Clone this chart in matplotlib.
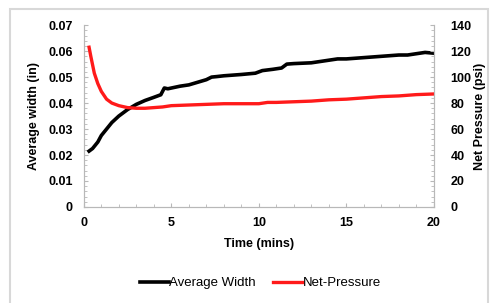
import numpy as np
import matplotlib.pyplot as plt
from matplotlib.patches import Rectangle
from matplotlib.ticker import MultipleLocator

# %% Data
t_width = [0.3, 0.5, 0.8, 1.0, 1.3, 1.6, 2.0, 2.5, 3.0, 3.5, 4.0, 4.4, 4.6, 4.8,
           5.5, 6.0, 6.5, 7.0, 7.3, 7.6, 8.0, 9.0, 9.8, 10.2, 10.8, 11.3, 11.6,
           12.0, 13.0, 14.0, 14.5, 15.0, 16.0, 17.0, 18.0, 18.5, 19.0, 19.5, 20.0]
avg_width = [0.0215, 0.0225, 0.0250, 0.0275, 0.0300, 0.0325, 0.0350, 0.0375,
             0.0395, 0.0410, 0.0422, 0.0432, 0.0458, 0.0455, 0.0465, 0.0470,
             0.0480, 0.0490, 0.0500, 0.0502, 0.0505, 0.0510, 0.0515, 0.0525,
             0.0530, 0.0535, 0.0550, 0.0552, 0.0555, 0.0565, 0.0570, 0.0570,
             0.0575, 0.0580, 0.0585, 0.0585, 0.0590, 0.0595, 0.0592]

t_press = [0.3, 0.4, 0.6, 0.8, 1.0, 1.3, 1.6, 2.0, 2.5, 3.0, 3.5, 4.0, 4.5, 5.0,
           6, 7, 8, 9, 10, 10.5, 11, 12, 13, 14, 15, 16, 17, 18, 19, 20]
net_press = [123, 116, 103, 95, 89, 83, 80, 78, 76.5, 76, 76, 76.5, 77, 78,
             78.5, 79, 79.5, 79.5, 79.5, 80.5, 80.5, 81, 81.5, 82.5, 83, 84,
             85, 85.5, 86.5, 87]

# %% Plot
plt.rcParams['font.family'] = ['Liberation Sans', 'DejaVu Sans']
plt.rcParams['font.weight'] = 'bold'
FontSize = 9
spine_col = '#b8b8b8'

fig = plt.figure(figsize=(4.93, 3.03), dpi=100)
fig.patches.append(Rectangle((0.02, -0.05), 0.97, 1.02, transform=fig.transFigure,
                             fill=False, edgecolor='#d8d8d8', lw=1.5))
ax = fig.add_axes([0.170, 0.317, 0.710, 0.600])
ax2 = ax.twinx()

l1, = ax.plot(t_width, avg_width, color='black', lw=2.6, label='Average Width')
l2, = ax2.plot(t_press, net_press, color='#ff1a1a', lw=2.4, label='Net-Pressure')

ax.set_xlim(0, 20)
ax.set_ylim(0, 0.07)
ax2.set_ylim(0, 140)
ax.xaxis.set_major_locator(MultipleLocator(5))
ax.yaxis.set_major_locator(MultipleLocator(0.01))
ax2.yaxis.set_major_locator(MultipleLocator(20))
ax.yaxis.set_minor_locator(MultipleLocator(0.002))
ax2.yaxis.set_minor_locator(MultipleLocator(4))
ax.xaxis.set_minor_locator(MultipleLocator(1))
ax.yaxis.set_major_formatter(lambda v, p: '0' if v == 0 else '%.2f' % v)

for a in (ax, ax2):
    a.spines['top'].set_visible(False)
    for s in ('left', 'right', 'bottom'):
        a.spines[s].set_color(spine_col)
    a.tick_params(which='both', direction='in', color=spine_col, labelsize=FontSize)
    a.tick_params(which='major', length=3)
    a.tick_params(which='minor', length=2)
ax.tick_params(axis='x', pad=7)
ax.tick_params(axis='y', pad=8)
ax2.tick_params(axis='y', pad=12)

ax.set_xlabel('Time (mins)', fontsize=FontSize, fontweight='bold', labelpad=7)
ax.set_ylabel('Average width (in)', fontsize=FontSize, fontweight='bold', labelpad=6)
ax2.set_ylabel('Net Pressure (psi)', fontsize=FontSize, fontweight='bold', rotation=90, labelpad=2)

fig.legend(handles=[l1, l2], loc='center', bbox_to_anchor=(0.528, 0.066), ncol=2,
           frameon=False, handlelength=2.2, handletextpad=0.05,
           columnspacing=1.3, prop={'weight': 'normal', 'size': FontSize + 0.5})

fig.savefig('out.png', dpi=100)
